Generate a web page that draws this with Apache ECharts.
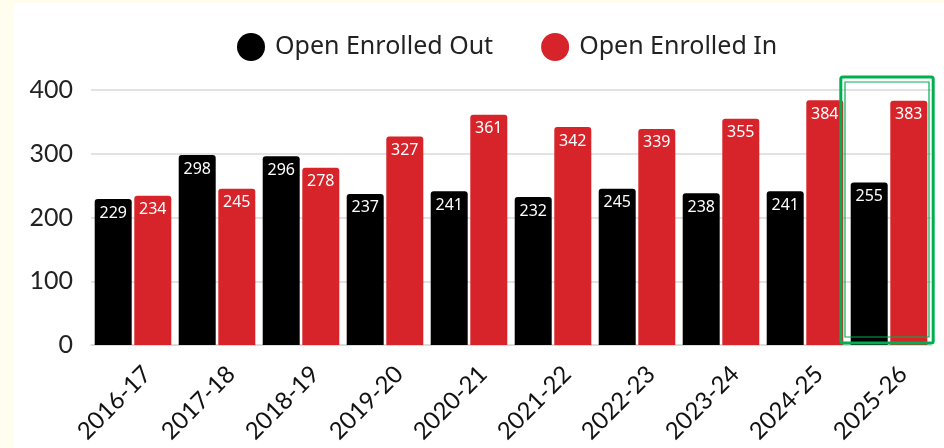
<!DOCTYPE html>
<html>
<head>
<meta charset="utf-8">
<script src="https://cdn.jsdelivr.net/npm/echarts@6/dist/echarts.min.js"></script>
<style>
  html, body { margin: 0; padding: 0; background: #fffdee; width: 944px; height: 448px; overflow: hidden; }
  #chart { position: absolute; left: 14px; top: 3px; width: 930px; height: 445px; background: #ffffff; }
</style>
</head>
<body>
<div id="chart"></div>
<script>
// School years
const years = ['2016-17', '2017-18', '2018-19', '2019-20', '2020-21',
               '2021-22', '2022-23', '2023-24', '2024-25', '2025-26'];
// Students open-enrolled out of / into the district
const enrolledOut = [229, 298, 296, 237, 241, 232, 245, 238, 241, 255];
const enrolledIn  = [234, 245, 278, 327, 361, 342, 339, 355, 384, 383];
// Value axis ticks
const yTicks = [0, 100, 200, 300, 400];
// Year that gets the highlight frame
const highlightYear = '2025-26';

const chart = echarts.init(document.getElementById('chart'), null, { renderer: 'canvas' });

const valueLabel = {
  show: true,
  position: 'insideTop',
  distance: 6,
  color: '#ffffff',
  fontFamily: 'Noto Sans',
  fontSize: 16
};

chart.setOption({
  animation: false,
  legend: {
    top: 25,
    left: 218,
    icon: 'circle',
    itemWidth: 28,
    itemHeight: 28,
    itemGap: 48,
    textStyle: { fontFamily: 'Noto Sans', fontSize: 25, color: '#222222', padding: [0, 0, 0, 5] },
    data: ['Open Enrolled Out', 'Open Enrolled In']
  },
  grid: { left: 77, right: 13, top: 87, bottom: 103, outerBoundsMode: 'none', containLabel: false },
  xAxis: {
    type: 'category',
    data: years,
    axisLine: { show: true, lineStyle: { color: '#d9d9d9', width: 1.5 } },
    axisTick: { show: false },
    axisLabel: {
      rotate: 45,
      margin: 11,
      verticalAlign: 'top',
      padding: [8, 0, 0, 0],
      fontFamily: 'Lato',
      fontSize: 24,
      color: '#111111'
    }
  },
  yAxis: {
    type: 'value',
    min: yTicks[0],
    max: yTicks[yTicks.length - 1],
    interval: yTicks[1] - yTicks[0],
    axisLine: { show: false },
    axisTick: { show: false },
    splitLine: { lineStyle: { color: '#d9d9d9', width: 1.5 } },
    axisLabel: { margin: 18, fontFamily: 'Lato', fontSize: 25, color: '#222222' }
  },
  series: [
    {
      name: 'Open Enrolled Out',
      type: 'bar',
      data: enrolledOut,
      barWidth: 37,
      barGap: '7%',
      itemStyle: { color: '#000000', borderRadius: [3, 3, 0, 0] },
      label: valueLabel
    },
    {
      name: 'Open Enrolled In',
      type: 'bar',
      data: enrolledIn,
      barWidth: 37,
      itemStyle: { color: '#d7242a', borderRadius: [3, 3, 0, 0] },
      label: valueLabel
    }
  ]
});

// Double green frame around the highlighted year, placed from the axis scales
const idx = years.indexOf(highlightYear);
const cx = chart.convertToPixel({ xAxisIndex: 0 }, idx) - 2;
const band = chart.convertToPixel({ xAxisIndex: 0 }, 1) - chart.convertToPixel({ xAxisIndex: 0 }, 0);
const yZero = chart.convertToPixel({ yAxisIndex: 0 }, yTicks[0]);
const yTop = chart.convertToPixel({ yAxisIndex: 0 }, yTicks[yTicks.length - 1]);
const outerHalf = band * 0.55;
const innerHalf = band * 0.5;

chart.setOption({
  graphic: [
    {
      type: 'rect',
      z: 100,
      shape: { x: cx - outerHalf, y: yTop - 13, width: outerHalf * 2, height: (yZero - 2) - (yTop - 13), r: 2 },
      style: { fill: null, stroke: '#00b050', lineWidth: 3 }
    },
    {
      type: 'rect',
      z: 100,
      shape: { x: cx - innerHalf, y: yTop - 8, width: innerHalf * 2, height: (yZero - 8) - (yTop - 8) },
      style: { fill: null, stroke: '#00b050', lineWidth: 1.2 }
    }
  ]
});
</script>
</body>
</html>
